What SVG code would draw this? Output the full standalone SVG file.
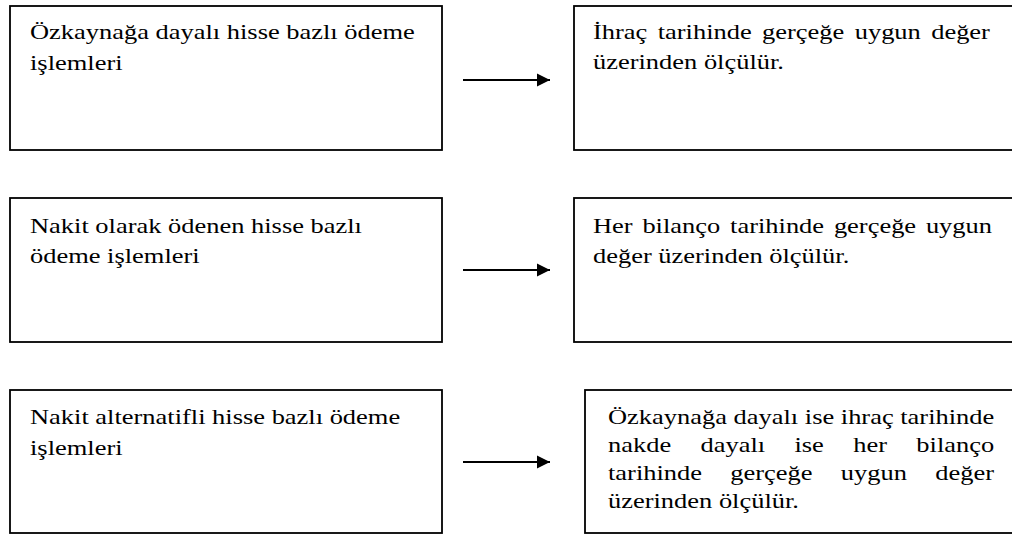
<svg xmlns="http://www.w3.org/2000/svg" width="1012" height="535" viewBox="0 0 1012 535">
<style>
.box{fill:#fff;stroke:#000;stroke-width:1.8}
.t{font-family:"Liberation Serif","Times New Roman",serif;font-size:21px;fill:#000}
.arr{stroke:#000;stroke-width:2;fill:none}
</style>
<defs>
<marker id="ah" markerUnits="userSpaceOnUse" markerWidth="14" markerHeight="14" refX="13" refY="7" orient="auto">
<path d="M0,0.5 L13,7 L0,13.5 Z" fill="#000"/>
</marker>
</defs>
<rect width="1012" height="535" fill="#fff"/>
<g id="n1">
<rect class="box" x="10" y="6" width="432" height="144"/>
<text class="t" transform="translate(30 0) scale(1.26 1)"><tspan x="0" y="39.5">Özkaynağa dayalı hisse bazlı ödeme</tspan><tspan x="0" y="70">işlemleri</tspan></text>
</g>
<g id="n2">
<rect class="box" x="574" y="6" width="446" height="144"/>
<text class="t" transform="translate(593 0) scale(1.26 1)"><tspan x="0" y="39.5">İhraç</tspan><tspan x="51.35" y="39.5">tarihinde</tspan><tspan x="134.2" y="39.5">gerçeğe</tspan><tspan x="207.7" y="39.5">uygun</tspan><tspan x="268.4" y="39.5">değer</tspan><tspan x="0" y="69.5">üzerinden ölçülür.</tspan></text>
</g>
<g id="n3">
<rect class="box" x="10" y="198" width="432" height="144"/>
<text class="t" transform="translate(30 0) scale(1.26 1)"><tspan x="0" y="233">Nakit olarak ödenen hisse bazlı</tspan><tspan x="0" y="263">ödeme işlemleri</tspan></text>
</g>
<g id="n4">
<rect class="box" x="574" y="198" width="446" height="144"/>
<text class="t" transform="translate(593 0) scale(1.26 1)"><tspan x="0" y="233">Her</tspan><tspan x="39.2" y="233">bilanço</tspan><tspan x="108.8" y="233">tarihinde</tspan><tspan x="191.2" y="233">gerçeğe</tspan><tspan x="264.2" y="233">uygun</tspan><tspan x="0" y="263">değer üzerinden ölçülür.</tspan></text>
</g>
<g id="n5">
<rect class="box" x="10" y="390" width="432" height="143"/>
<text class="t" transform="translate(30 0) scale(1.26 1)"><tspan x="0" y="424">Nakit alternatifli hisse bazlı ödeme</tspan><tspan x="0" y="455">işlemleri</tspan></text>
</g>
<g id="n6">
<rect class="box" x="585" y="390" width="435" height="143"/>
<text class="t" transform="translate(608 0) scale(1.26 1)"><tspan x="0" y="424">Özkaynağa dayalı ise ihraç tarihinde</tspan><tspan x="0" y="452">nakde</tspan><tspan x="73.4" y="452">dayalı</tspan><tspan x="148" y="452">ise</tspan><tspan x="194.6" y="452">her</tspan><tspan x="244.7" y="452">bilanço</tspan><tspan x="0" y="480">tarihinde</tspan><tspan x="97.1" y="480">gerçeğe</tspan><tspan x="184.8" y="480">uygun</tspan><tspan x="259.7" y="480">değer</tspan><tspan x="0" y="508">üzerinden ölçülür.</tspan></text>
</g>
<g id="connectors">
<line class="arr" x1="463" y1="80" x2="550" y2="80" marker-end="url(#ah)"/>
<line class="arr" x1="463" y1="270" x2="550" y2="270" marker-end="url(#ah)"/>
<line class="arr" x1="463" y1="462" x2="550" y2="462" marker-end="url(#ah)"/>
</g>
</svg>
